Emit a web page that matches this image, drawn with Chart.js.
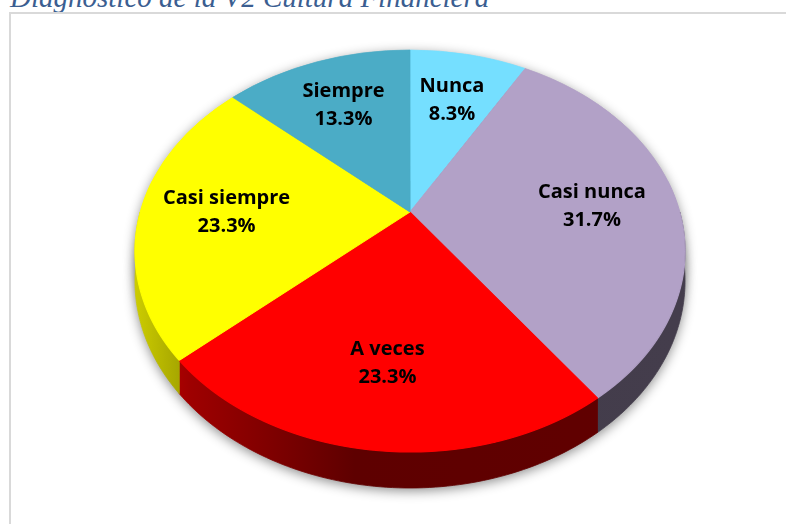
<!DOCTYPE html>
<html lang="es">
<head>
<meta charset="UTF-8" />
<title>Diagnóstico de la V2 Cultura Financiera</title>
<script src="https://cdn.jsdelivr.net/npm/chart.js"></script>
<style>
    body {
        margin: 0;
        width: 786px;
        height: 524px;
        overflow: hidden;
        background: #fff;
        position: relative;
    }

    #titulo {
        position: absolute;
        left: 10px;
        top: -17px;
        font-family: "Liberation Serif", "Times New Roman", serif;
        font-style: italic;
        font-size: 29px;
        line-height: 29px;
        color: #3b5e91;
        white-space: nowrap;
    }

    #marco {
        position: absolute;
        left: 9px;
        top: 12px;
        width: 800px;
        height: 600px;
        border: 2px solid #d9d9d9;
    }

    #grafico {
        position: absolute;
        left: 0;
        top: 0;
    }
</style>
</head>
<body>

<div id="titulo">Diagnóstico de la V2 Cultura Financiera</div>
<div id="marco"></div>
<canvas id="grafico" width="786" height="524"></canvas>

<script>
    const categorias = ['Nunca', 'Casi nunca', 'A veces', 'Casi siempre', 'Siempre'];
    const porcentajes = [8.3, 31.7, 23.3, 23.3, 13.3];
    const colores = ['#75dfff', '#b2a1c7', '#ff0000', '#ffff00', '#4bacc6'];

    // perspectiva del pastel en pantalla: borde de arriba, centro, borde de abajo,
    // medio ancho y grosor del costado
    const ARRIBA = 50, CENTRO = 212, ABAJO = 452, CX = 410, MEDIO_ANCHO = 275, GROSOR = 36;
    const K = (ABAJO + ARRIBA - 2 * CENTRO) / (ABAJO - ARRIBA);
    const A = ABAJO * (1 - K) - CENTRO;
    const C = MEDIO_ANCHO * Math.sqrt(1 - K * K);
    const D = GROSOR * (1 - K);

    // (X, Y) en el círculo unidad -> pantalla; z = 1 para la base
    function proyectar(X, Y, z) {
        const w = 1 - K * Y;
        return [CX + C * X / w, (A * Y + CENTRO + z * D) / w];
    }
    function inversaY(yp) {
        return (yp - CENTRO) / (A + K * yp);
    }

    function oscurecer(hex, f) {
        const n = parseInt(hex.slice(1), 16);
        const r = Math.round(((n >> 16) & 255) * f);
        const g = Math.round(((n >> 8) & 255) * f);
        const b = Math.round((n & 255) * f);
        return `rgb(${r},${g},${b})`;
    }

    const pastel3D = {
        id: 'pastel3D',
        beforeDatasetsDraw(chart) {
            const ctx = chart.ctx;
            const arcos = chart.getDatasetMeta(0).data;
            const base = arcos[0];
            const r = base.outerRadius;

            // costado (mitad cercana)
            ctx.save();
            arcos.forEach((arc, i) => {
                const a1 = Math.max(arc.startAngle, 0);
                const a2 = Math.min(arc.endAngle, Math.PI);
                if (a2 <= a1) return;
                const g = ctx.createLinearGradient(CX - MEDIO_ANCHO, 0, CX + MEDIO_ANCHO, 0);
                [[0, 0.8], [0.1, 0.62], [0.4, 0.37], [1, 0.38]].forEach(([t, f]) => g.addColorStop(t, oscurecer(colores[i], f)));
                ctx.fillStyle = g;
                ctx.strokeStyle = g;
                ctx.lineWidth = 0.8;
                ctx.beginPath();
                const n = 80;
                for (let j = 0; j <= n; j++) {
                    const t = a1 + (a2 - a1) * j / n;
                    const p = proyectar(Math.cos(t), Math.sin(t), 0);
                    j === 0 ? ctx.moveTo(p[0], p[1]) : ctx.lineTo(p[0], p[1]);
                }
                for (let j = n; j >= 0; j--) {
                    const t = a1 + (a2 - a1) * j / n;
                    const p = proyectar(Math.cos(t), Math.sin(t), 1);
                    ctx.lineTo(p[0], p[1]);
                }
                ctx.closePath();
                ctx.fill();
                ctx.stroke();
            });
            ctx.restore();

            // cara superior, fila por fila con la escala de su profundidad
            for (let yd = ARRIBA - 2; yd < ABAJO + 2; yd++) {
                const y0 = inversaY(yd), y1 = inversaY(yd + 1);
                const w = 1 - K * (y0 + y1) / 2;
                ctx.save();
                ctx.beginPath();
                ctx.rect(0, yd, chart.width, 1);
                ctx.clip();
                ctx.translate(CX, yd);
                ctx.scale(C / (w * r), 1 / ((y1 - y0) * r));
                ctx.translate(-base.x, -(base.y + y0 * r));
                arcos.forEach(a => a.draw(ctx));
                ctx.restore();
            }

            // sombra
            ctx.save();
            ctx.globalCompositeOperation = 'destination-over';
            ctx.shadowColor = 'rgba(0,0,0,0.45)';
            ctx.shadowBlur = 12;
            ctx.shadowOffsetX = 1000;
            ctx.shadowOffsetY = 3;
            ctx.fillStyle = '#000';
            [0, 1].forEach(z => {
                ctx.beginPath();
                for (let j = 0; j <= 120; j++) {
                    const t = 2 * Math.PI * j / 120;
                    const p = proyectar(Math.cos(t), Math.sin(t), z);
                    j === 0 ? ctx.moveTo(p[0] - 1000, p[1]) : ctx.lineTo(p[0] - 1000, p[1]);
                }
                ctx.closePath();
                ctx.fill();
            });
            ctx.restore();

            return false;
        },
        afterDraw(chart) {
            const ctx = chart.ctx;
            const arcos = chart.getDatasetMeta(0).data;
            ctx.save();
            ctx.font = 'bold 20px "Open Sans", sans-serif';
            ctx.fillStyle = '#000';
            ctx.textAlign = 'center';
            ctx.textBaseline = 'middle';
            arcos.forEach((arc, i) => {
                const m = (arc.startAngle + arc.endAngle) / 2;
                const [x, y] = proyectar(0.68 * Math.cos(m), 0.68 * Math.sin(m), 0);
                ctx.fillText(categorias[i], x, y - 13);
                ctx.fillText(porcentajes[i].toFixed(1) + '%', x, y + 15);
            });
            ctx.restore();
        }
    };

    const grafico = new Chart(document.getElementById('grafico'), {
        type: 'pie',
        data: {
            labels: categorias,
            datasets: [{
                data: porcentajes,
                backgroundColor: colores,
                borderColor: colores,
                borderWidth: 1
            }]
        },
        options: {
            responsive: false,
            animation: false,
            events: [],
            plugins: {
                legend: { display: false },
                tooltip: { enabled: false }
            }
        },
        plugins: [pastel3D]
    });
</script>

</body>
</html>
